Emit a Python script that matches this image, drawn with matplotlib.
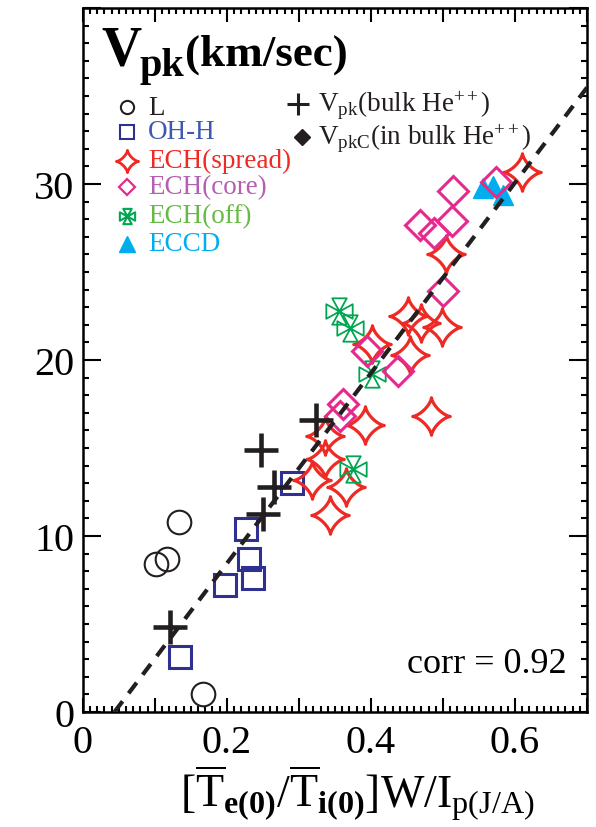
import numpy as np
import matplotlib
matplotlib.use('Agg')
import matplotlib.pyplot as plt
from matplotlib.path import Path
from matplotlib.ticker import MultipleLocator, FuncFormatter

plt.rcParams['font.family'] = 'Liberation Serif'
plt.rcParams['mathtext.fontset'] = 'custom'
plt.rcParams['mathtext.rm'] = 'Liberation Serif'
plt.rcParams['mathtext.bf'] = 'Liberation Serif:bold'
plt.rcParams['mathtext.it'] = 'Liberation Serif:italic'

# ============================================================
# DATA
# ============================================================
L_x = [0.134, 0.101, 0.117, 0.167]
L_y = [10.8, 8.4, 8.7, 1.0]

ohh_x = [0.291, 0.227, 0.231, 0.236, 0.197, 0.135]
ohh_y = [13.0, 10.4, 8.7, 7.6, 7.2, 3.1]

spread_x = [0.609, 0.504, 0.452, 0.470, 0.498, 0.454, 0.401, 0.484,
            0.392, 0.336, 0.336, 0.318, 0.366, 0.343]
spread_y = [30.7, 26.0, 22.5, 22.1, 21.9, 20.3, 20.9, 16.8,
            16.3, 15.7, 14.4, 13.2, 12.8, 11.2]

core_x = [0.574, 0.514, 0.468, 0.487, 0.512, 0.500, 0.395, 0.438, 0.361, 0.357]
core_y = [30.1, 29.6, 27.7, 27.2, 27.9, 23.9, 20.5, 19.4, 17.5, 16.8]

off_x = [0.355, 0.371, 0.401, 0.375]
off_y = [22.8, 21.8, 19.2, 13.8]

eccd_x = [0.556, 0.570, 0.583]
eccd_y = [29.8, 29.9, 29.4]

bulk_x = [0.324, 0.248, 0.266, 0.250, 0.121]
bulk_y = [16.6, 14.9, 12.8, 11.25, 4.8]

fit_slope, fit_icpt = 54.1, -2.38
corr = 0.92

XMAX, YMAX = 0.7, 40

# ============================================================
# CUSTOM MARKERS
# ============================================================
t = np.linspace(0, 2 * np.pi, 161)
c, s = np.cos(t), np.sin(t)
star4 = Path(np.column_stack([np.sign(c) * np.abs(c) ** 2.85,
                              np.sign(s) * np.abs(s) ** 2.85]), closed=True)

a = 0.55
tri_verts = [(0, 0), (-a, 1), (a, 1), (0, 0),
             (1, -a), (1, a), (0, 0),
             (a, -1), (-a, -1), (0, 0),
             (-1, a), (-1, -a), (0, 0)]
windmill = Path(tri_verts)

RED = '#ee2a24'
NAVY = '#2e3192'
PINK = '#e62a8d'
GREEN = '#00a651'
CYAN = '#00aeef'
BLACK = '#231f20'

# ============================================================
# FIGURE
# ============================================================
fig = plt.figure(figsize=(5.96, 8.28), dpi=100)
ax = fig.add_axes([0.139, 0.139, 0.846, 0.850])

ax.plot(L_x, L_y, 'o', ms=17, mfc='none', mec=BLACK, mew=1.5, zorder=3)
ax.plot(ohh_x, ohh_y, 's', ms=16.5, mfc='none', mec=NAVY, mew=2.2, zorder=3)
ax.plot(spread_x, spread_y, ls='none', marker=star4, ms=27, mfc='none',
        mec=RED, mew=2.3, zorder=4)
ax.plot(off_x, off_y, ls='none', marker=windmill, ms=19, mfc='none',
        mec=GREEN, mew=1.3, zorder=5)
ax.plot(eccd_x, eccd_y, '^', ms=14.5, color=CYAN, zorder=5)
ax.plot(core_x, core_y, 'D', ms=15.5, mfc='none', mec=PINK, mew=2.2, zorder=6)
ax.plot(bulk_x, bulk_y, '+', ms=25, mec=BLACK, mew=3.3, zorder=7)

x0 = -fit_icpt / fit_slope
xs = np.array([x0, XMAX])
ax.plot(xs, fit_slope * xs + fit_icpt, color=BLACK, lw=3, ls=(0, (3.2, 2.4)), zorder=8)

ax.set_xlim(0, XMAX)
ax.set_ylim(0, YMAX)
ax.xaxis.set_major_locator(MultipleLocator(0.1))
ax.xaxis.set_minor_locator(MultipleLocator(0.01))
ax.yaxis.set_major_locator(MultipleLocator(10))
ax.yaxis.set_minor_locator(MultipleLocator(1))
ax.xaxis.set_major_formatter(FuncFormatter(
    lambda v, p: ('0' if abs(v) < 1e-9 else f'{v:.1f}') if round(v * 10) % 2 == 0 else ''))
ax.yaxis.set_major_formatter(FuncFormatter(lambda v, p: f'{v:.0f}' if v < 35 else ''))
ax.tick_params(which='both', direction='in', top=True, right=True, width=1.5,
               labelsize=29)
ax.tick_params(axis='x', which='major', length=10, pad=9)
ax.tick_params(axis='y', which='major', length=13, pad=6)
ax.tick_params(which='minor', length=4.5)
for sp in ax.spines.values():
    sp.set_linewidth(1.8)

# title inside axes
ax.text(0.036, 0.920, 'V', transform=ax.transAxes, fontsize=40,
        fontweight='bold', va='baseline', ha='left')
ax.text(0.113, 0.905, 'pk', transform=ax.transAxes, fontsize=29,
        fontweight='bold', va='baseline', ha='left')
ax.text(0.203, 0.920, '(km/sec)', transform=ax.transAxes, fontsize=32.5,
        fontweight='bold', va='baseline', ha='left')

# legend (manual)
leg = [
    ('L', 'o', dict(ms=9.5, mfc='none', mec=BLACK, mew=1.5), BLACK),
    ('OH-H', 's', dict(ms=9.5, mfc='none', mec=NAVY, mew=1.5), '#3d5ab0'),
    ('ECH(spread)', star4, dict(ms=16, mfc='none', mec=RED, mew=2), RED),
    ('ECH(core)', 'D', dict(ms=8.5, mfc='none', mec=PINK, mew=1.6), '#b45fb0'),
    ('ECH(off)', windmill, dict(ms=11, mfc='none', mec=GREEN, mew=1.5), '#66bb44'),
    ('ECCD', '^', dict(ms=12, mfc=CYAN, mec=CYAN), CYAN),
]
leg_y = [0.859, 0.824, 0.783, 0.746, 0.705, 0.665]
for (lab, mk, kw, tc), yy in zip(leg, leg_y):
    ax.plot([0.088], [yy], ls='none', marker=mk, transform=ax.transAxes,
            clip_on=False, **kw)
    ax.text(0.129, yy, lab, transform=ax.transAxes, fontsize=19.5, color=tc,
            va='center', ha='left')

ax.plot([0.427], [0.864], '+', ms=16, mec=BLACK, mew=2.2, transform=ax.transAxes)
ax.text(0.466, 0.864, r'V$_{\mathrm{pk}}$(bulk He$^{++}$)', transform=ax.transAxes,
        fontsize=19.5, color=BLACK, va='center', ha='left')
ax.plot([0.435], [0.817], 'D', ms=8, color=BLACK, transform=ax.transAxes)
ax.text(0.466, 0.817, r'V$_{\mathrm{pkC}}$(in bulk He$^{++}$)', transform=ax.transAxes,
        fontsize=19.5, color=BLACK, va='center', ha='left')

ax.text(0.960, 0.057, f'corr = {corr:.2f}', transform=ax.transAxes, fontsize=26,
        ha='right', va='baseline')

ax.text(0.544, -0.135, r'$[\overline{\mathrm{T}}_{\mathbf{e(0)}}/\overline{\mathrm{T}}_{\mathbf{i(0)}}]\mathrm{W/I}_{\mathrm{p(J/A)}}$',
        transform=ax.transAxes, fontsize=33, ha='center', va='baseline')

fig.savefig('out.png', dpi=100)
